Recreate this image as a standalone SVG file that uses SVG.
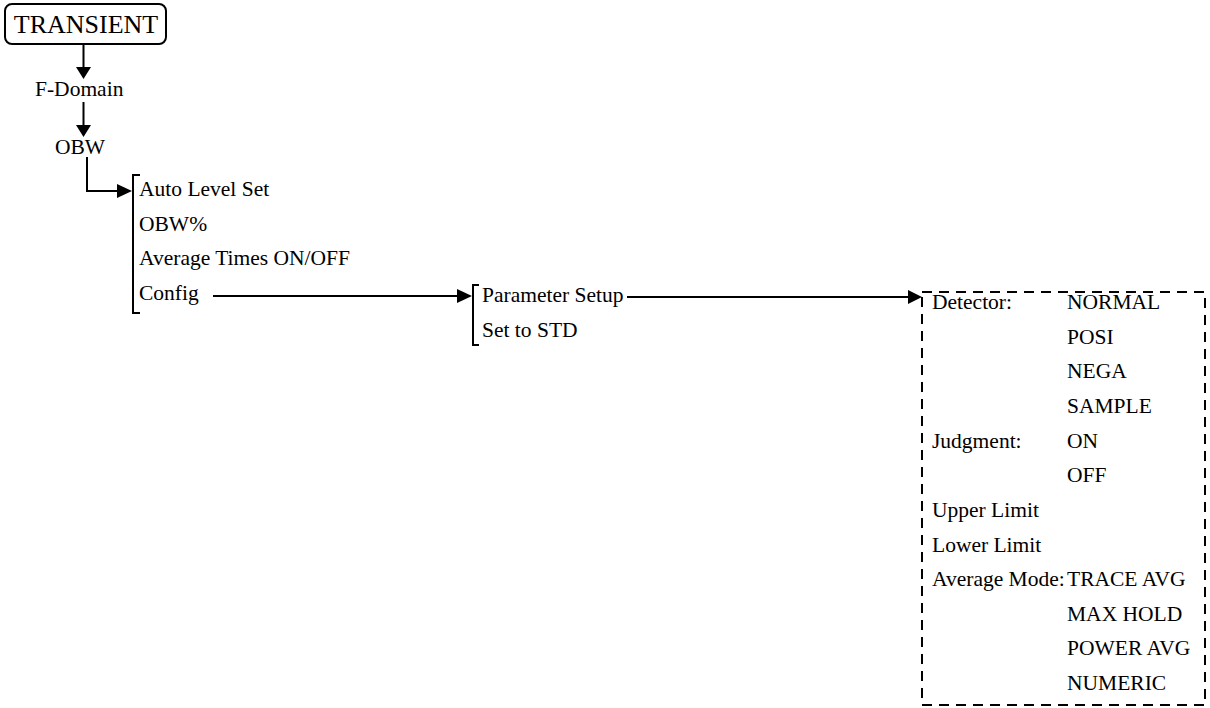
<svg xmlns="http://www.w3.org/2000/svg" width="1210" height="708" viewBox="0 0 1210 708">
<defs>
<style type="text/css">
text{font-family:'Liberation Serif','Times New Roman',Times,serif;font-size:21.5px;fill:#000}
.big{font-size:26px}
.ln{stroke:#000;stroke-width:2;fill:none}
.dash{stroke:#000;stroke-width:2;fill:none;stroke-dasharray:10,7}
.hd{fill:#000}
</style>
</defs>
<rect width="1210" height="708" fill="#fff"/>
<g id="connectors">
<line class="ln" x1="83.5" y1="44" x2="83.5" y2="68"/>
<polygon class="hd" points="76,67 91,67 83.5,79"/>
<line class="ln" x1="83.5" y1="102" x2="83.5" y2="126"/>
<polygon class="hd" points="76,125 91,125 83.5,137"/>
<polyline class="ln" points="87,157 87,191 118,191"/>
<polygon class="hd" points="117,184 117,198 132,191"/>
<line class="ln" x1="213" y1="296" x2="458" y2="296"/>
<polygon class="hd" points="457,289 457,303 472,296"/>
<line class="ln" x1="627" y1="297" x2="909" y2="297"/>
<polygon class="hd" points="908,290 908,304 922,297"/>
</g>
<g font-family="Liberation Serif, Times New Roman, serif">
<g id="transient">
<rect x="5" y="4" width="161" height="40" rx="7" fill="#fff" stroke="#000" stroke-width="2"/>
<text class="big" x="86" y="33" text-anchor="middle">TRANSIENT</text>
</g>
<g id="fdomain"><text x="35" y="96">F-Domain</text></g>
<g id="obw"><text x="55" y="154">OBW</text></g>
<g id="menu1">
<polyline class="ln" points="140,175 133,175 133,313 140,313"/>
<text x="139" y="196">Auto Level Set</text>
<text x="139" y="231">OBW%</text>
<text x="139" y="265">Average Times ON/OFF</text>
<text x="139" y="300">Config</text>
</g>
<g id="menu2">
<polyline class="ln" points="479,285 473,285 473,345 479,345"/>
<text x="482" y="302">Parameter Setup</text>
<text x="482" y="337">Set to STD</text>
</g>
<g id="params">
<rect class="dash" x="922" y="292" width="283" height="413"/>
<text x="932" y="309">Detector:</text>
<text x="1067" y="309">NORMAL</text>
<text x="1067" y="344">POSI</text>
<text x="1067" y="378">NEGA</text>
<text x="1067" y="413">SAMPLE</text>
<text x="932" y="448">Judgment:</text>
<text x="1067" y="448">ON</text>
<text x="1067" y="482">OFF</text>
<text x="932" y="517">Upper Limit</text>
<text x="932" y="552">Lower Limit</text>
<text x="932" y="586">Average Mode:</text>
<text x="1067" y="586">TRACE AVG</text>
<text x="1067" y="621">MAX HOLD</text>
<text x="1067" y="655">POWER AVG</text>
<text x="1067" y="690">NUMERIC</text>
</g>
</g>
</svg>
